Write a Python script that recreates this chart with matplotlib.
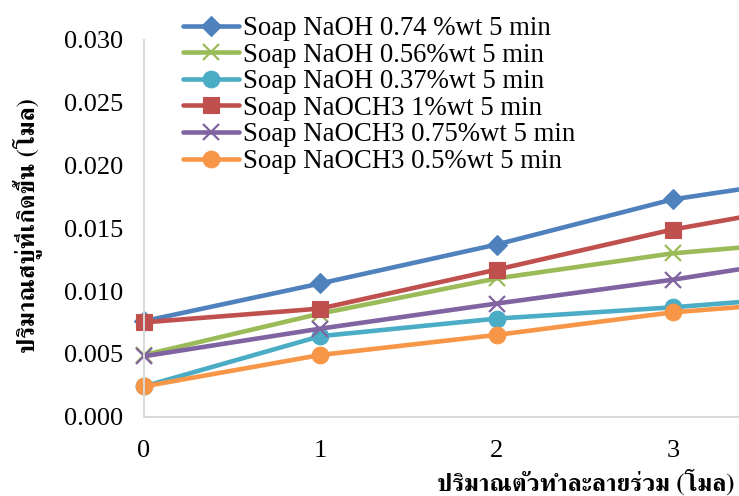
import matplotlib
matplotlib.use("Agg")
import matplotlib.pyplot as plt

# Co-solvent amount (mol) and soap formed (mol)
cosolvent = [0, 1, 2, 3, 4]
x_ticks = [0, 1, 2, 3]

naoh_074 = [0.0076, 0.0106, 0.0137, 0.0173, 0.0194]
naoh_056 = [0.0049, 0.0082, 0.0110, 0.0130, 0.0142]
naoh_037 = [0.0024, 0.0064, 0.0078, 0.0087, 0.0098]
naoch3_100 = [0.0075, 0.0086, 0.0117, 0.0149, 0.0174]
naoch3_075 = [0.0048, 0.0070, 0.0090, 0.0109, 0.0131]
naoch3_050 = [0.0024, 0.0049, 0.0065, 0.0083, 0.0094]

labels = [
    "Soap NaOH 0.74 %wt 5 min",
    "Soap NaOH 0.56%wt 5 min",
    "Soap NaOH 0.37%wt 5 min",
    "Soap NaOCH3 1%wt 5 min",
    "Soap NaOCH3 0.75%wt 5 min",
    "Soap NaOCH3 0.5%wt 5 min",
]
series = [naoh_074, naoh_056, naoh_037, naoch3_100, naoch3_075, naoch3_050]
colors = ["#4F81BD", "#9BBB59", "#4BACC6", "#C0504D", "#8064A2", "#F79646"]
markers = ["D", "x", "o", "s", "x", "o"]
msizes = [10, 12, 12, 11.5, 12, 12]

y_ticks = [0.000, 0.005, 0.010, 0.015, 0.020, 0.025, 0.030]

W, H = 739, 496
fig = plt.figure(figsize=(W / 100, H / 100), dpi=100)
# plot area runs past the right edge of the canvas
ax = fig.add_axes([144 / W, 79.5 / H, 705 / W, 376.5 / H])

for vals, lab, c, m, ms in zip(series, labels, colors, markers, msizes):
    ax.plot(cosolvent, vals, color=c, lw=3.3, marker=m, markersize=ms,
            markeredgewidth=1.6 if m == "x" else 0.8, markeredgecolor=c,
            label=lab, clip_on=False, solid_capstyle="round")

ax.set_xlim(0, 4)
ax.set_ylim(0, 0.030)
ax.set_xticks(x_ticks)
ax.set_yticks(y_ticks)
ax.set_yticklabels([f"{v:.3f}" for v in y_ticks])

serif = "Liberation Serif"
for t in ax.get_xticklabels() + ax.get_yticklabels():
    t.set_fontfamily(serif)
    t.set_fontsize(19)
ax.tick_params(axis="both", length=0)
ax.tick_params(axis="y", pad=15)
ax.tick_params(axis="x", pad=17)

for s in ["top", "right"]:
    ax.spines[s].set_visible(False)
for s in ["left", "bottom"]:
    ax.spines[s].set_color("#D9D9D9")
    ax.spines[s].set_linewidth(1.4)

thai = ["FreeSerif", "Liberation Serif"]
fig.text(586 / W, 1 - 483 / H, "ปริมาณตัวทำละลายร่วม (โมล)", family=thai,
         fontsize=17.8, fontweight="bold", ha="center", va="center")
fig.text(27 / W, 1 - 226 / H, "ปริมาณสบู่ที่เกิดขึ้น (โมล)", family=thai,
         fontsize=17.8, fontweight="bold", ha="center", va="center", rotation=90)

leg = ax.legend(loc="upper left", bbox_to_anchor=(183 / W, 1 - 16 / H),
                bbox_transform=fig.transFigure, frameon=False,
                prop={"family": serif, "size": 19.3}, handlelength=2.1,
                handletextpad=0.15, labelspacing=0.06, borderpad=0,
                borderaxespad=0)

fig.savefig("out.png", dpi=100)
